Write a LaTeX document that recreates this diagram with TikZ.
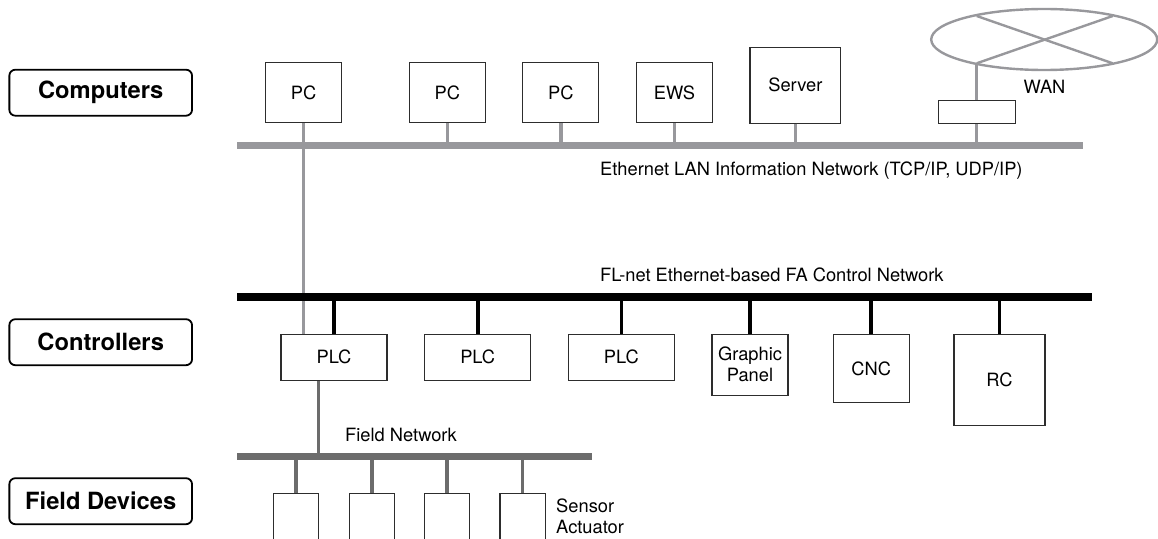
\documentclass[tikz,border=0pt]{standalone}
\usepackage{fontspec}
\setmainfont{TeX Gyre Heros}
\usetikzlibrary{shapes.geometric,calc}
\definecolor{ethgray}{RGB}{152,152,156}
\definecolor{fieldgray}{RGB}{108,108,108}
\definecolor{boxline}{RGB}{45,45,45}
\newcommand\devfont{\fontsize{18.3}{21}\selectfont}
\newcommand\tierfont{\fontsize{23.7}{28}\selectfont\bfseries}
\begin{document}
\begin{tikzpicture}[x=1pt,y=-1pt,
  dev/.style={draw=boxline, line width=1.1pt, fill=white, inner sep=0pt, font=\devfont, align=center},
  tier/.style={draw=black, line width=1.8pt, rounded corners=6pt, minimum width=182.7pt, minimum height=46pt, inner sep=0pt, font=\tierfont},
  bus/.style={inner sep=0pt, outer sep=0pt, draw=none},
  lbl/.style={inner sep=0pt, font=\devfont, align=left},
  ethconn/.style={draw=ethgray, line width=3.3pt},
  flconn/.style={draw=black, line width=3.6pt},
  fieldconn/.style={draw=fieldgray, line width=3.5pt},
  wanline/.style={draw=ethgray, line width=2.4pt}]
\useasboundingbox (0,0) rectangle (1158,538);
\clip (0,0) rectangle (1158,538);

% tier labels
\node[tier] (computers) at (100.7,92.7) {Computers};
\node[tier] (controllers) at (100.7,342.2) {Controllers};
\node[tier] (fielddevices) at (100.7,501.2) {Field Devices};

% computers
\node[dev, minimum width=76pt, minimum height=60.4pt] (pc1) at (303.7,92.5) {PC};
\node[dev, minimum width=76pt, minimum height=60.4pt] (pc2) at (447.3,92.5) {PC};
\node[dev, minimum width=76pt, minimum height=60.4pt] (pc3) at (560.85,92.5) {PC};
\node[dev, minimum width=75.6pt, minimum height=60.4pt] (ews) at (674.5,92.5) {EWS};
\node[dev, minimum width=90.7pt, minimum height=75.7pt] (server) at (795.35,85.2) {Server};
\node[dev, minimum width=76.7pt, minimum height=23.3pt] (router) at (976.7,111.7) {};
\node[ellipse, draw=ethgray, line width=2.4pt, minimum width=226pt, minimum height=61pt, inner sep=0pt] (wan) at (1044.2,39.5) {};
\node[lbl] (wanlabel) at (1044.5,87.3) {WAN};

% controllers
\node[dev, minimum width=106pt, minimum height=45.7pt] (plc1) at (334,357.2) {PLC};
\node[dev, minimum width=106pt, minimum height=45.7pt] (plc2) at (477.7,357.2) {PLC};
\node[dev, minimum width=106pt, minimum height=45.7pt] (plc3) at (621.3,357.2) {PLC};
\node[dev, minimum width=76pt, minimum height=60.7pt] (gp) at (750,364.7) {Graphic\\Panel};
\node[dev, minimum width=75.7pt, minimum height=68.4pt] (cnc) at (871.2,368.5) {CNC};
\node[dev, minimum width=91pt, minimum height=90.7pt] (rc) at (999.5,379.7) {RC};

% field devices
\node[dev, minimum width=45.4pt, minimum height=60pt, anchor=north] (fd1) at (296,493.3) {};
\node[dev, minimum width=45.4pt, minimum height=60pt, anchor=north] (fd2) at (371.8,493.3) {};
\node[dev, minimum width=45.4pt, minimum height=60pt, anchor=north] (fd3) at (447.2,493.3) {};
\node[dev, minimum width=45.4pt, minimum height=60pt, anchor=north] (fd4) at (522.7,493.3) {};

% PC to PLC link (under the buses)
\draw[ethconn] (pc1.south) -- (pc1.south |- plc1.north);

% buses
\node[bus, fill=ethgray, minimum width=846.6pt, minimum height=7.3pt] (eth) at (660,145.7) {};
\node[bus, fill=black, minimum width=855pt, minimum height=8pt] (fl) at (664.2,297) {};
\node[bus, fill=fieldgray, minimum width=355.3pt, minimum height=7pt] (field) at (414.35,456) {};

% bus labels
\node[lbl, anchor=base west] (ethlabel) at (600,175) {Ethernet LAN Information Network (TCP/IP, UDP/IP)};
\node[lbl, anchor=base west] (fllabel) at (600,281) {FL-net Ethernet-based FA Control Network};
\node[lbl, anchor=base west] (fieldlabel) at (345,441) {Field Network};
\node[lbl, anchor=north west] (sensorlabel) at (556,499) {Sensor\\Actuator};

% ethernet connectors
\foreach \n in {pc2,pc3,ews,server}
  \draw[ethconn] (\n.south) -- (\n.south |- eth.center);
\draw[ethconn] (router.south) -- (router.south |- eth.center);

% WAN cross and link
\coordinate (wa) at ($(wan.center)+(-67.5,-23.5)$);
\coordinate (wb) at ($(wan.center)+(68.5,-23.5)$);
\coordinate (wc) at ($(wan.center)+(-67.5,23.8)$);
\coordinate (wd) at ($(wan.center)+(68.5,23.8)$);
\draw[wanline] (wa) -- (wd);
\draw[wanline] (wb) -- (wc);
\draw[ethconn] (wc) -- (router.north);

% FL-net connectors
\foreach \n in {plc1,plc2,plc3,gp,cnc,rc}
  \draw[flconn] (\n.north) -- (\n.north |- fl.center);

% field connectors
\draw[fieldconn] ([xshift=-15.7pt]plc1.south) -- ([xshift=-15.7pt]plc1.south |- field.center);
\foreach \n in {fd1,fd2,fd3,fd4}
  \draw[fieldconn] (\n.north) -- (\n.north |- field.center);
\end{tikzpicture}
\end{document}
